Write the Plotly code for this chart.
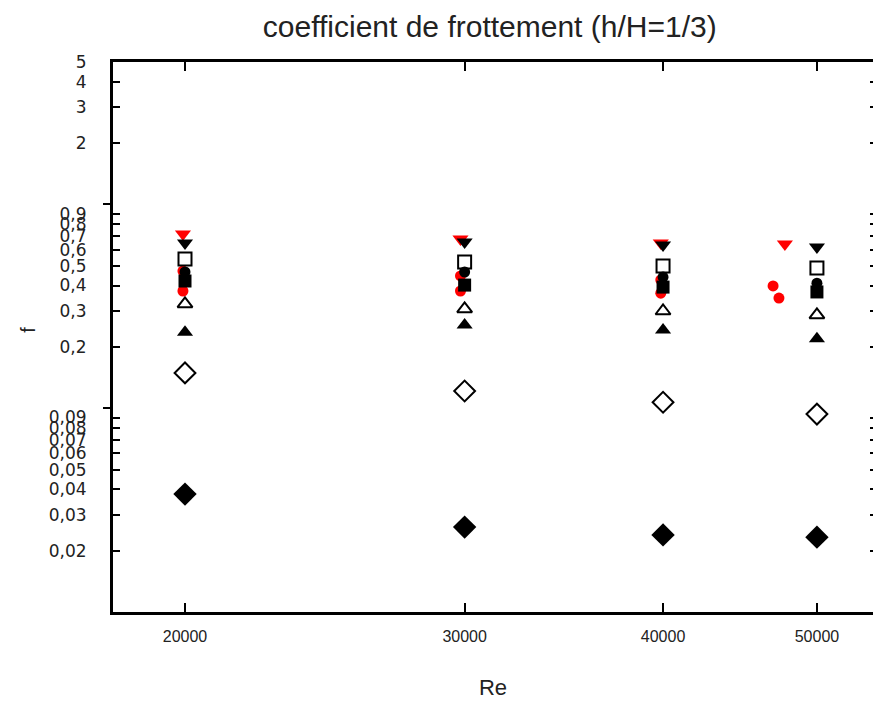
import numpy as np
import plotly.graph_objects as go

# Reynolds numbers of the measurement campaigns
re = [20000, 30000, 40000, 50000]

# friction coefficient f for each configuration (black markers)
f_tri_down = [0.647, 0.654, 0.632, 0.618]
f_sq_open = [0.540, 0.522, 0.499, 0.487]
f_circle = [0.466, 0.466, 0.440, 0.411]
f_sq = [0.421, 0.402, 0.393, 0.372]
f_tri_up_open = [0.325, 0.307, 0.300, 0.287]
f_tri_up = [0.236, 0.256, 0.242, 0.219]
f_dia_open = [0.149, 0.1215, 0.107, 0.0936]
f_dia = [0.0379, 0.0261, 0.0239, 0.0233]

# red reference series (slightly shifted Reynolds numbers)
re_red_tri = [19940, 29820, 39870, 47730]
f_red_tri = [0.716, 0.676, 0.647, 0.639]
re_red_c1 = [19940, 29820, 39870, 46920]
f_red_c1 = [0.471, 0.446, 0.426, 0.398]
re_red_c2 = [19940, 29820, 39870, 47320]
f_red_c2 = [0.376, 0.376, 0.367, 0.347]

# y tick values and their French decimal labels
y_tickvals = [5, 4, 3, 2, 0.9, 0.8, 0.7, 0.6, 0.5, 0.4, 0.3, 0.2,
              0.09, 0.08, 0.07, 0.06, 0.05, 0.04, 0.03, 0.02]
y_ticktext = [str(v).replace(".", ",") for v in y_tickvals]
x_tickvals = [20000, 30000, 40000, 50000]
x_ticktext = ["20000", "30000", "40000", "50000"]

FONT = "Liberation Sans, Arial, sans-serif"
WIDE = "DejaVu Sans, Verdana, sans-serif"

fig = go.Figure()

def add(x, y, symbol, color, size=13, lw=2):
    fig.add_trace(go.Scatter(
        x=x, y=y, mode="markers", showlegend=False,
        marker=dict(symbol=symbol, size=size, color=color,
                    line=dict(width=lw if "open" in symbol else 0, color=color)),
    ))

# red series drawn first so black markers sit on top
add(re_red_tri, f_red_tri, "triangle-down", "#ff0000", size=14)
add(re_red_c1, f_red_c1, "circle", "#ff0000", size=11)
add(re_red_c2, f_red_c2, "circle", "#ff0000", size=11)

add(re, f_tri_down, "triangle-down", "black", size=14)
add(re, f_sq_open, "square-open", "black", size=13)
add(re, f_circle, "circle", "black", size=11)
add(re, f_sq, "square", "black", size=13)
add(re, f_tri_up_open, "triangle-up-open", "black", size=13)
add(re, f_tri_up, "triangle-up", "black", size=14)
add(re, f_dia_open, "diamond-open", "black", size=16)
add(re, f_dia, "diamond", "black", size=18)

x_range = [np.log10(20000) - 72 / 1588, np.log10(20000) + 688 / 1588]
y_range = [-2, np.log10(5)]

fig.update_layout(
    width=873, height=706,
    margin=dict(l=113, r=0, t=62, b=94),
    paper_bgcolor="white", plot_bgcolor="white",
    title=dict(text="coefficient de frottement (h/H=1/3)", x=0.561, xanchor="center",
               y=0.963, yanchor="middle",
               font=dict(family=FONT, size=30, color="#222")),
    xaxis=dict(
        type="log", range=x_range, showgrid=False, zeroline=False, automargin=False,
        tickmode="array", tickvals=x_tickvals, ticktext=x_ticktext,
        ticks="inside", ticklen=9, tickwidth=2, tickcolor="black",
        showline=True, linewidth=3, linecolor="black", mirror="ticks",
        tickfont=dict(family=FONT, size=16, color="#222"), ticklabelstandoff=8,
        title=dict(text="Re", font=dict(family=FONT, size=22, color="#222"), standoff=36),
    ),
    yaxis=dict(
        type="log", range=y_range, showgrid=False, zeroline=False, automargin=False,
        tickmode="array", tickvals=y_tickvals, ticktext=y_ticktext,
        ticks="inside", ticklen=7, tickwidth=2, tickcolor="black",
        minor=dict(tickmode="array", tickvals=[1, 0.1], ticks="outside",
                   ticklen=7, tickwidth=2, tickcolor="black", showgrid=False),
        showline=True, linewidth=3, linecolor="black",
        tickfont=dict(family=WIDE, size=17, color="#222"), ticklabelstandoff=20,
    ),
    yaxis2=dict(
        type="log", range=y_range, overlaying="y", side="right", automargin=False,
        showgrid=False, zeroline=False, showline=False,
        tickmode="array", tickvals=y_tickvals, showticklabels=False,
        ticks="inside", ticklen=3, tickwidth=2, tickcolor="black",
    ),
    annotations=[dict(
        text="f", xref="paper", yref="paper", x=-0.112, y=0.513,
        xanchor="center", yanchor="middle", textangle=-90, showarrow=False,
        font=dict(family=FONT, size=20, color="#222"),
    )],
)

# invisible trace to activate the right-hand tick axis
fig.add_trace(go.Scatter(x=[re[0]], y=[1], yaxis="y2", mode="markers",
                         marker=dict(opacity=0), showlegend=False, hoverinfo="skip"))

fig.write_html("out.html")
